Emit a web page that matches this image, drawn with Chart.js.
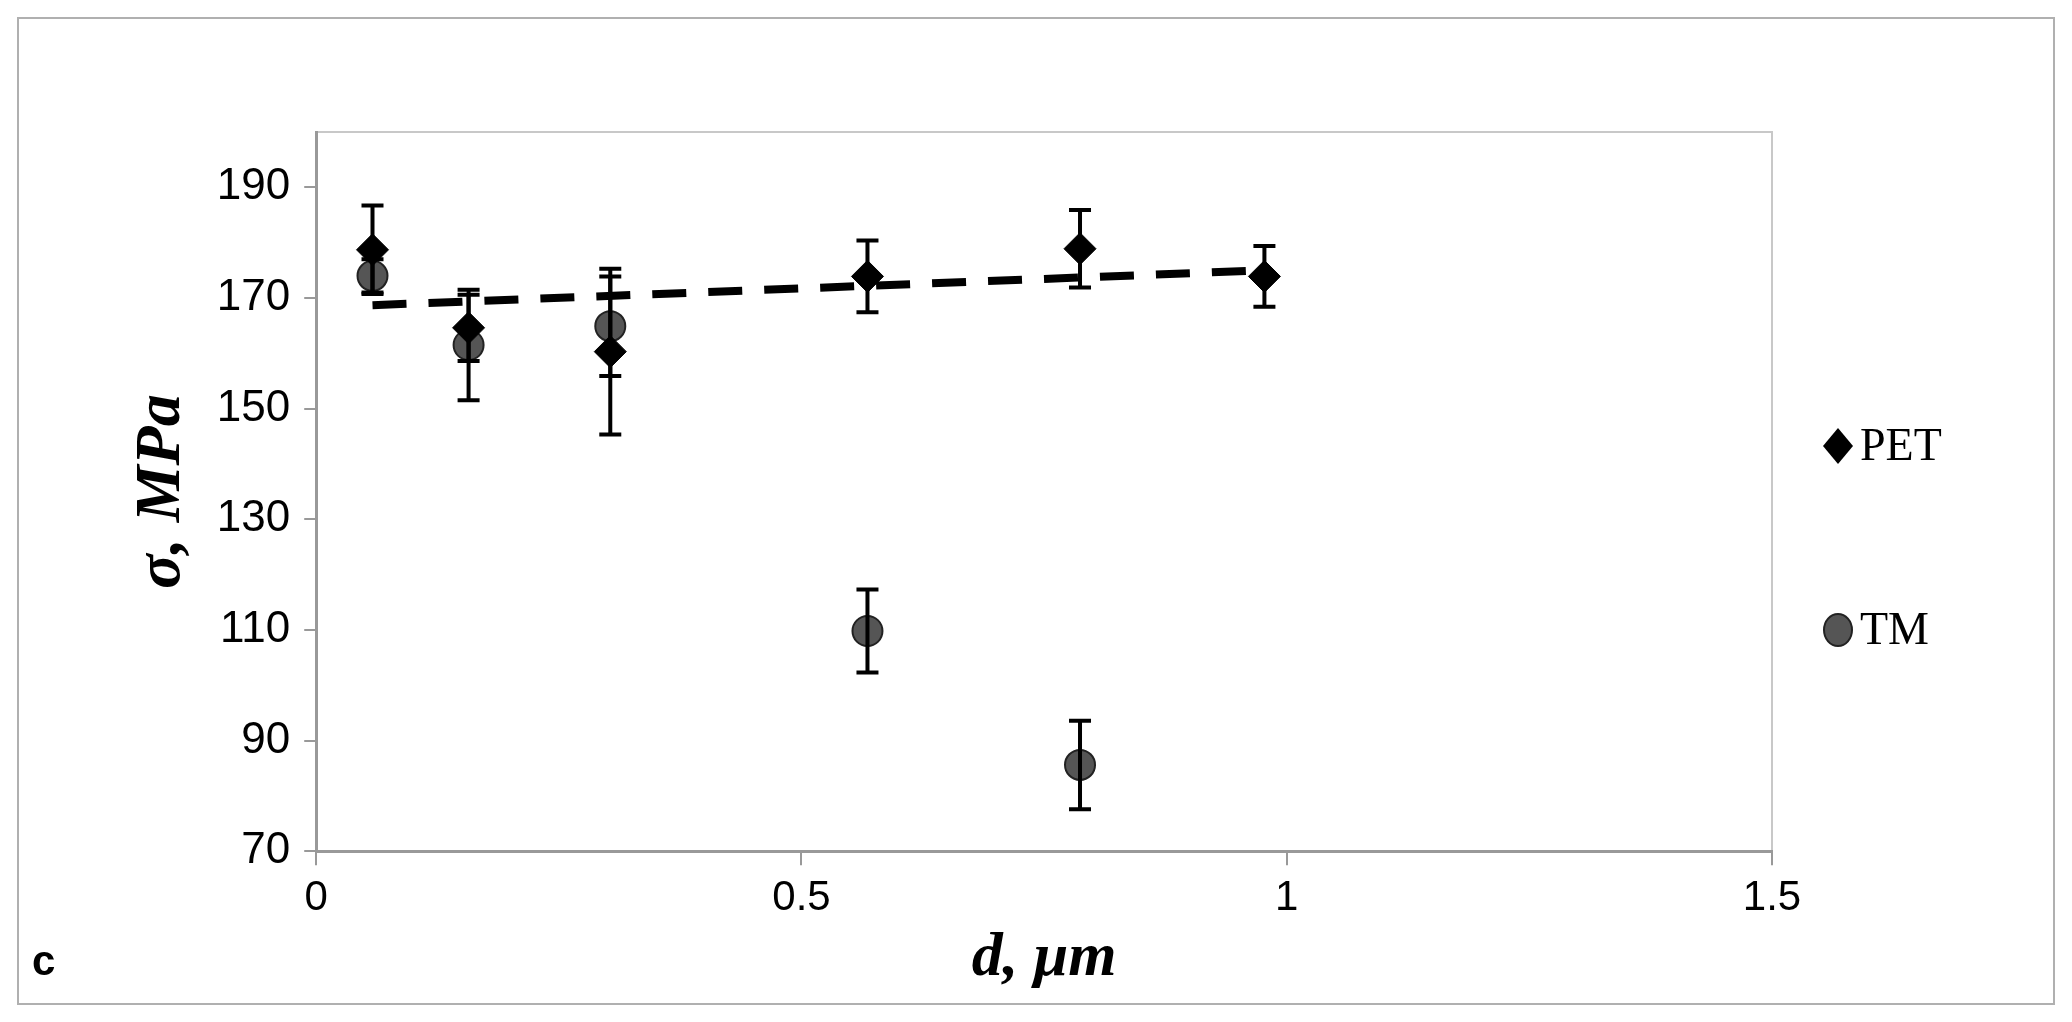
<!DOCTYPE html>
<html>
<head>
<meta charset="utf-8">
<script src="https://cdn.jsdelivr.net/npm/chart.js@4/dist/chart.umd.min.js"></script>
<style>
  body { margin: 0; background: #fff; }
  canvas { display: block; }
</style>
</head>
<body>
<canvas id="c" width="2072" height="1022"></canvas>
<script>
// values
const petX = [0.058, 0.157, 0.303, 0.568, 0.787, 0.977]
const petY = [178.7, 164.6, 160.3, 173.9, 178.9, 173.9]
const petErr = [8, 6, 15, 6.5, 7, 5.5]

const tmX = [0.058, 0.157, 0.303, 0.568, 0.787]
const tmY = [174, 161.5, 164.9, 109.8, 85.6]
const tmErr = [3, 10, 9, 7.5, 8]

// linear trend of PET (end points)
const trendX = [0.058, 0.977]
const trendY = [168.7, 175.0]

const yTicks = [70, 90, 110, 130, 150, 170, 190]
const xTicks = [0, 0.5, 1, 1.5]

const toPoints = (xs, ys) => xs.map((x, i) => ({ x, y: ys[i] }))

const errorBars = {
  id: "errorBars",
  afterDatasetsDraw(chart) {
    const { ctx, scales } = chart
    const sx = scales.x, sy = scales.y
    ctx.save()
    ctx.strokeStyle = "#000"
    ctx.lineWidth = 4
    const draw = (xs, ys, es) => {
      xs.forEach((x, i) => {
        const px = sx.getPixelForValue(x)
        const top = sy.getPixelForValue(ys[i] + es[i])
        const bot = sy.getPixelForValue(ys[i] - es[i])
        ctx.beginPath()
        ctx.moveTo(px, top); ctx.lineTo(px, bot)
        ctx.moveTo(px - 11, top); ctx.lineTo(px + 11, top)
        ctx.moveTo(px - 11, bot); ctx.lineTo(px + 11, bot)
        ctx.stroke()
      })
    }
    draw(petX, petY, petErr)
    draw(tmX, tmY, tmErr)
    ctx.restore()
  },
}

const frame = {
  id: "frame",
  beforeDraw(chart) {
    const { ctx, chartArea: a } = chart
    ctx.save()
    ctx.fillStyle = "#fff"
    ctx.fillRect(0, 0, chart.width, chart.height)
    ctx.strokeStyle = "#b0b0b0"
    ctx.lineWidth = 2
    ctx.strokeRect(18, 18, 2036, 986)
    ctx.strokeStyle = "#c8c8c8"
    ctx.strokeRect(a.left, a.top, a.right - a.left, a.bottom - a.top)
    ctx.restore()
  },
  afterDraw(chart) {
    const { ctx } = chart
    ctx.save()
    ctx.fillStyle = "#000"
    ctx.font = "bold 42px 'Liberation Sans', Arial, sans-serif"
    ctx.fillText("c", 32, 975)
    // legend
    ctx.font = "46px 'Liberation Serif', serif"
    ctx.textBaseline = "middle"
    const lx = 1838
    ctx.beginPath()
    ctx.moveTo(lx, 428); ctx.lineTo(lx + 15, 446); ctx.lineTo(lx, 464); ctx.lineTo(lx - 15, 446)
    ctx.closePath(); ctx.fill()
    ctx.fillText("PET", lx + 22, 448)
    ctx.beginPath()
    ctx.ellipse(lx, 630, 14, 16, 0, 0, Math.PI * 2)
    ctx.fillStyle = "#555"; ctx.fill()
    ctx.strokeStyle = "#222"; ctx.lineWidth = 2; ctx.stroke()
    ctx.fillStyle = "#000"
    ctx.fillText("TM", lx + 22, 632)
    ctx.restore()
  },
}

new Chart(document.getElementById("c"), {
  type: "scatter",
  data: {
    datasets: [
      {
        label: "trend",
        type: "line",
        data: toPoints(trendX, trendY),
        borderColor: "#000",
        borderWidth: 8,
        borderDash: [34, 22],
        pointRadius: 0,
        order: 3,
      },
      {
        label: "PET",
        data: toPoints(petX, petY),
        pointStyle: "rectRot",
        pointRadius: 16,
        backgroundColor: "#000",
        borderColor: "#000",
        order: 1,
      },
      {
        label: "TM",
        data: toPoints(tmX, tmY),
        pointStyle: "circle",
        pointRadius: 15,
        backgroundColor: "#555",
        borderColor: "#222",
        borderWidth: 2,
        order: 2,
      },
    ],
  },
  options: {
    responsive: false,
    animation: false,
    layout: { padding: { left: 120, right: 300, top: 132, bottom: 22 } },
    plugins: { legend: { display: false }, tooltip: { enabled: false } },
    scales: {
      x: {
        type: "linear",
        min: 0,
        max: 1.5,
        afterBuildTicks: (axis) => { axis.ticks = xTicks.map((v) => ({ value: v })) },
        grid: { drawOnChartArea: false, tickLength: 14, color: "#999", lineWidth: 2 },
        border: { color: "#999", width: 3 },
        ticks: {
          color: "#000",
          font: { size: 42, family: "'Liberation Sans', Arial" },
          padding: 8,
          callback: (v) => String(v),
        },
        title: {
          display: true,
          text: "d, μm",
          color: "#000",
          font: { size: 62, weight: "bold", style: "italic", family: "'Liberation Serif', serif" },
          padding: { top: -10 },
        },
      },
      y: {
        type: "linear",
        min: 70,
        max: 200,
        afterBuildTicks: (axis) => { axis.ticks = yTicks.map((v) => ({ value: v })) },
        grid: { drawOnChartArea: false, tickLength: 12, color: "#999", lineWidth: 2 },
        border: { color: "#999", width: 3 },
        ticks: { color: "#000", font: { size: 44, family: "'Liberation Sans', Arial" }, padding: 14 },
        title: {
          display: true,
          text: "σ, MPa",
          color: "#000",
          font: { size: 64, weight: "bold", style: "italic", family: "'Liberation Serif', serif" },
          padding: { bottom: 2 },
        },
      },
    },
  },
  plugins: [frame, errorBars],
})
</script>
</body>
</html>
